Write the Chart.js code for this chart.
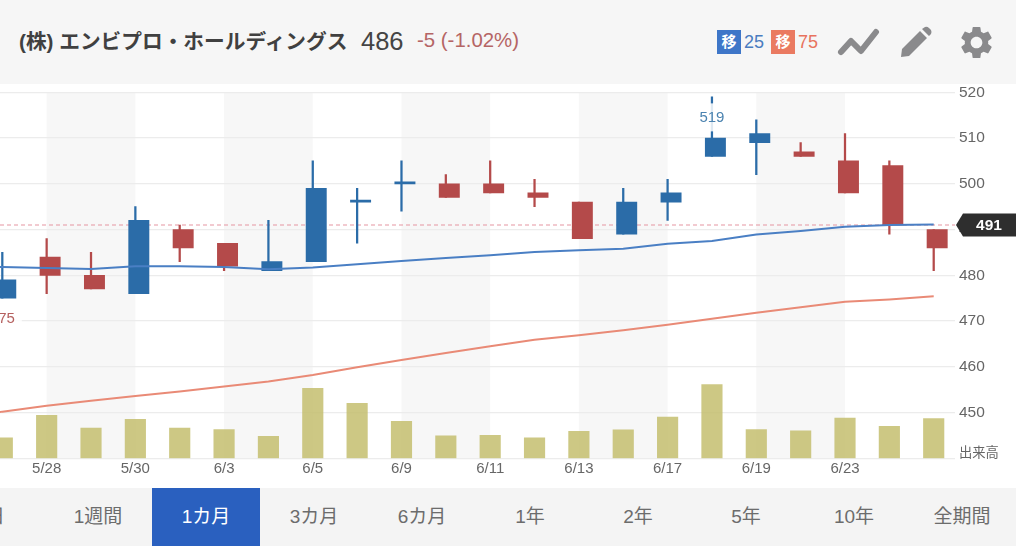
<!DOCTYPE html>
<html lang="ja">
<head>
<meta charset="utf-8">
<title>エンビプロ・ホールディングス</title>
<script src="https://cdn.jsdelivr.net/npm/chart.js@4"></script>
<style>
  html, body { margin: 0; background: #fff; overflow: hidden; }
  body { width: 1024px; height: 548px; position: relative; font-family: "Liberation Sans", "Noto Sans CJK JP", sans-serif; }
  .header { position: absolute; left: 0; top: 0; width: 1016px; height: 84px; background: #f6f6f6; }
  .header span, .header svg { position: absolute; white-space: nowrap; }
  .name { left: 19px; top: 25px; font-size: 20.7px; font-weight: bold; color: #404040; }
  .price { left: 361px; top: 27px; font-size: 25.5px; color: #444; }
  .change { left: 417px; top: 29px; font-size: 20.4px; color: #b56565; }
  .badge { top: 30px; width: 24px; height: 24px; line-height: 24px; text-align: center; color: #fff; font-size: 15px; font-weight: bold; }
  .ma { top: 32px; font-size: 18px; }
  canvas { position: absolute; left: 0; top: 79px; }
  .tabs { position: absolute; left: 0; top: 488px; width: 1016px; height: 58px; background: #f4f4f4; overflow: hidden; }
  .tabs div { position: absolute; top: 0; width: 108px; height: 58px; line-height: 58px; text-align: center; font-size: 19px; color: #6c6c6c; }
  .tabs .active { background: #2a60bf; color: #fff; }
</style>
</head>
<body>
<div class="header">
  <span class="name">(株) エンビプロ・ホールディングス</span>
  <span class="price">486</span>
  <span class="change">-5 (-1.02%)</span>
  <span class="badge" style="left:717px;background:#3e76c8">移</span>
  <span class="ma" style="left:744px;color:#4a7cc0">25</span>
  <span class="badge" style="left:771px;background:#ea7a61">移</span>
  <span class="ma" style="left:798px;color:#e8735e">75</span>
  <svg style="left:836px;top:26px" width="45" height="32" viewBox="0 0 45 32"><polyline points="5,26 15,15 25,25 40,6" fill="none" stroke="#8a8a8c" stroke-width="6" stroke-linecap="round" stroke-linejoin="round"/></svg>
  <svg style="left:899px;top:26px" width="34" height="32" viewBox="0 0 34 32"><path d="M2 31 L3 23 L21 5 L28 12 L10 30 Z M23 3 L26 1 Q28 0 30 2 L32 4 Q33 6 32 8 L30 10 Z" fill="#8a8a8c"/></svg>
  <svg style="left:957px;top:23px" width="39" height="39" viewBox="0 0 24 24"><path fill="#8a8a8c" d="M19.14 12.94c.04-.3.06-.61.06-.94 0-.32-.02-.64-.07-.94l2.03-1.58c.18-.14.23-.41.12-.61l-1.92-3.32c-.12-.22-.37-.29-.59-.22l-2.39.96c-.5-.38-1.03-.7-1.62-.94l-.36-2.54c-.04-.24-.24-.41-.48-.41h-3.84c-.24 0-.43.17-.47.41l-.36 2.54c-.59.24-1.13.57-1.62.94l-2.39-.96c-.22-.08-.47 0-.59.22L2.74 8.87c-.12.21-.08.47.12.61l2.03 1.58c-.05.3-.09.63-.09.94s.02.64.07.94l-2.03 1.58c-.18.14-.23.41-.12.61l1.92 3.32c.12.22.37.29.59.22l2.39-.96c.5.38 1.03.7 1.62.94l.36 2.54c.05.24.24.41.48.41h3.84c.24 0 .44-.17.47-.41l.36-2.54c.59-.24 1.13-.56 1.62-.94l2.39.96c.22.08.47 0 .59-.22l1.92-3.32c.12-.22.07-.47-.12-.61l-2.01-1.58zM12 15.6c-1.98 0-3.6-1.62-3.6-3.6s1.62-3.6 3.6-3.6 3.6 1.62 3.6 3.6-1.62 3.6-3.6 3.6z"/></svg>
</div>
<canvas id="chart" width="1016" height="408"></canvas>
<div class="tabs" id="tabs"></div>

<script>
// данные графика
const dateTicks = [1, 3, 5, 7, 9, 11, 13, 15, 17, 19];
const dateTickLabels = ['5/28', '5/30', '6/3', '6/5', '6/9', '6/11', '6/13', '6/17', '6/19', '6/23'];
const opens = [475, 484, 480, 476, 490, 487, 481, 483, 496, 500, 500, 500, 498, 496, 489, 496, 506, 509, 507, 505, 504, 490];
const closes = [479, 480, 477, 492, 486, 482, 483, 499, 496, 500, 497, 498, 497, 488, 496, 498, 510, 511, 506, 498, 491, 486];
const highs = [485, 488, 485, 495, 491, 487, 492, 505, 499, 505, 502, 505, 501, 496, 499, 501, 519, 514, 509, 511, 505, 490];
const lows = [475, 476, 477, 476, 483, 481, 481, 483, 487, 494, 497, 498, 495, 488, 489, 492, 506, 502, 506, 498, 489, 481];
const volumes = [45, 94, 66, 85, 66, 63, 48, 153, 120, 81, 49, 50, 45, 59, 62, 90, 161, 63, 60, 88, 70, 87];
// у средних первая точка лежит на день раньше первой свечи
const ma25 = [482, 481.8, 481.6, 481.4, 482, 482, 481.8, 481.3, 481.7, 482.4, 483.1, 483.8, 484.4, 485.1, 485.5, 485.8, 486.9, 487.5, 488.9, 489.7, 490.6, 491, 491.1];
const ma75 = [448.6, 450.2, 451.5, 452.6, 453.6, 454.6, 455.7, 456.8, 458.2, 459.9, 461.5, 463, 464.5, 465.9, 466.9, 468, 469.2, 470.5, 471.8, 473, 474.2, 474.7, 475.4];
const prevClose = 491;
const priceTicks = [440, 450, 460, 470, 480, 490, 500, 510, 520];
const periods = ['1日', '1週間', '1カ月', '3カ月', '6カ月', '1年', '2年', '5年', '10年', '全期間'];
const activePeriod = '1カ月';

const FONT = '"Liberation Sans", "Noto Sans CJK JP", sans-serif';
const BLUE = '#2b6ca8';
const RED = '#b44a4a';
const X_MIN = -0.052;
const X_MAX = 21.48;
const BODY_SHIFT = 0.078; // тело свечи смещено вправо относительно тени

// нижняя панель периодов
periods.forEach((name, i) => {
  const tab = document.createElement('div');
  tab.textContent = name;
  tab.style.left = `${-64 + i * 108}px`;
  if (name === activePeriod) tab.className = 'active';
  document.getElementById('tabs').appendChild(tab);
});

const candleColor = (ctx) => (closes[ctx.dataIndex] >= opens[ctx.dataIndex] ? BLUE : RED);

// плагин для серых полос под графиком
const bands = {
  id: 'bands',
  beforeDraw(chart) {
    const { ctx, chartArea: { top, bottom }, scales: { x } } = chart;
    ctx.save();
    ctx.fillStyle = '#f7f7f7';
    for (let i = 0; i + 1 < dateTicks.length; i += 2) {
      const left = x.getPixelForValue(dateTicks[i]);
      ctx.fillRect(left, top, x.getPixelForValue(dateTicks[i + 1]) - left, bottom - top);
    }
    ctx.restore();
  },
};

// подписи максимума и минимума, метка предыдущего закрытия
const notes = {
  id: 'notes',
  afterDatasetsDraw(chart) {
    const { ctx, scales: { x, y } } = chart;
    const note = (index, value, text, color) => {
      const cx = x.getPixelForValue(index);
      const cy = y.getPixelForValue(value) + 20.5;
      ctx.font = `15px ${FONT}`;
      const w = ctx.measureText(text).width + 14;
      ctx.fillStyle = 'rgba(255,255,255,0.85)';
      ctx.fillRect(cx - w / 2, cy - 14, w, 28);
      ctx.fillStyle = color;
      ctx.textAlign = 'center';
      ctx.textBaseline = 'middle';
      ctx.fillText(text, cx, cy);
    };
    ctx.save();
    const top = highs.indexOf(Math.max(...highs));
    const low = lows.indexOf(Math.min(...lows));
    note(top, highs[top], String(highs[top]), '#4b83b0');
    note(low, lows[low], String(lows[low]), '#b5605f');
    ctx.restore();
  },
  afterDraw(chart) {
    const { ctx, scales: { y }, chartArea: { right } } = chart;
    const cy = y.getPixelForValue(prevClose);
    ctx.save();
    ctx.fillStyle = '#2e2e2e';
    ctx.beginPath();
    ctx.moveTo(right + 1, cy);
    ctx.lineTo(right + 8, cy - 11.5);
    ctx.lineTo(1016, cy - 11.5);
    ctx.lineTo(1016, cy + 11.5);
    ctx.lineTo(right + 8, cy + 11.5);
    ctx.closePath();
    ctx.fill();
    ctx.fillStyle = '#fff';
    ctx.font = `bold 15.5px ${FONT}`;
    ctx.textAlign = 'center';
    ctx.textBaseline = 'middle';
    ctx.fillText(String(prevClose), 989, cy + 0.5);
    ctx.restore();
  },
};

const chartConfig = {
  type: 'bar',
  data: {
    datasets: [
      {
        data: volumes.map((v, i) => ({ x: i, y: v })),
        yAxisID: 'yVolume',
        backgroundColor: 'rgba(196,190,110,0.85)',
        barThickness: 20.5,
        grouped: false,
        order: 5,
      },
      {
        type: 'line',
        data: [{ x: X_MIN, y: prevClose }, { x: X_MAX, y: prevClose }],
        borderColor: '#e695a2',
        borderWidth: 1.2,
        borderDash: [4, 3],
        pointRadius: 0,
        order: 4,
      },
      {
        data: highs.map((v, i) => ({ x: i, y: [lows[i], v] })),
        backgroundColor: candleColor,
        barThickness: 1.6,
        grouped: false,
        order: 3,
      },
      {
        data: opens.map((v, i) => ({ x: i, y: [v, closes[i]] })),
        xAxisID: 'xBody',
        backgroundColor: candleColor,
        barThickness: 20.3,
        minBarLength: 2,
        grouped: false,
        order: 2,
      },
      {
        type: 'line',
        data: ma25.map((v, i) => ({ x: i - 1, y: v })),
        borderColor: '#4a7fc4',
        borderWidth: 2,
        pointRadius: 0,
        order: 1,
      },
      {
        type: 'line',
        data: ma75.map((v, i) => ({ x: i - 1, y: v })),
        borderColor: '#e98a76',
        borderWidth: 2,
        pointRadius: 0,
        order: 1,
      },
    ],
  },
  options: {
    responsive: false,
    animation: false,
    layout: { padding: { top: 11, left: 0, right: 0, bottom: 0 } },
    plugins: { legend: { display: false }, tooltip: { enabled: false } },
    scales: {
      x: {
        type: 'linear',
        offset: false,
        min: X_MIN,
        max: X_MAX,
        grid: { display: false, drawTicks: false },
        border: { display: false },
        afterBuildTicks(scale) {
          scale.ticks = dateTicks.map((value) => ({ value }));
        },
        afterFit(scale) {
          scale.height = 28.7;
        },
        ticks: {
          autoSkip: false,
          maxRotation: 0,
          padding: 2,
          color: '#666',
          font: { family: FONT, size: 15 },
          callback: (value) => dateTickLabels[dateTicks.indexOf(value)],
        },
      },
      xBody: {
        type: 'linear',
        offset: false,
        display: false,
        min: X_MIN - BODY_SHIFT,
        max: X_MAX - BODY_SHIFT,
      },
      y: {
        position: 'right',
        min: priceTicks[0],
        max: priceTicks[priceTicks.length - 1],
        border: { display: false },
        grid: { color: '#ececec', lineWidth: 1.3, drawTicks: false },
        afterBuildTicks(scale) {
          scale.ticks = priceTicks.map((value) => ({ value }));
        },
        afterFit(scale) {
          scale.width = 61;
        },
        ticks: {
          padding: 4,
          color: '#666',
          font: (ctx) => (ctx.tick && ctx.tick.value === priceTicks[0]
            ? { family: FONT, size: 13.3, lineHeight: 0.8 }
            : { family: FONT, size: 15.5 }),
          // подпись объёма сдвинута вверх пустой второй строкой
          callback: (value) => (value === priceTicks[0] ? ['出来高', ''] : value),
        },
      },
      yVolume: {
        display: false,
        min: 0,
        max: 800,
      },
    },
  },
  plugins: [bands, notes],
};

const chart = new Chart(document.getElementById('chart'), chartConfig);
</script>
</body>
</html>
